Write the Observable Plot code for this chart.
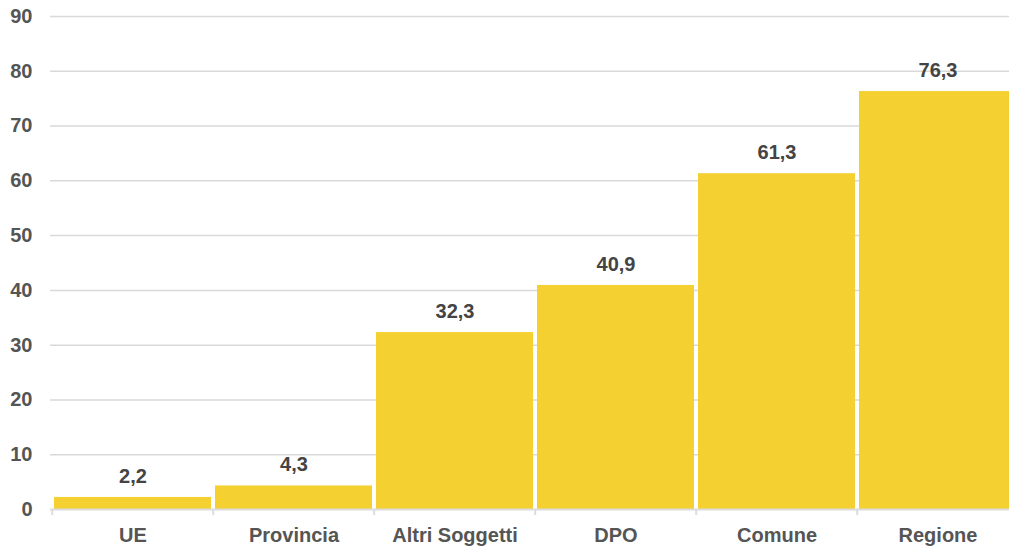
<!DOCTYPE html>
<html>
<head>
<meta charset="utf-8">
<script src="https://cdn.jsdelivr.net/npm/d3@7"></script>
<script src="https://cdn.jsdelivr.net/npm/@observablehq/plot@0.6"></script>
<style>
  html, body { margin: 0; padding: 0; background: #fff; }
  #chart svg { display: block; }
</style>
</head>
<body>
<div id="chart"></div>
<script>
const categories = ["UE", "Provincia", "Altri Soggetti", "DPO", "Comune", "Regione"];
const values = [2.2, 4.3, 32.3, 40.9, 61.3, 76.3];
const yTicks = [0, 10, 20, 30, 40, 50, 60, 70, 80, 90];

const data = categories.map((c, i) => ({category: c, value: values[i]}));
const fmt = v => v.toFixed(1).replace(".", ",");

const W = 1009, H = 547, mL = 50;
// the reference is cropped on the right: the band scale continues past the edge
const xRange = [50, 1020];
const step = (xRange[1] - xRange[0]) / categories.length;

const chart = Plot.plot({
  width: W,
  height: H,
  marginTop: 16,
  marginBottom: 38,
  marginLeft: mL,
  marginRight: 0,
  style: {fontFamily: "'Liberation Sans', Arial, Helvetica, sans-serif", background: "#fff"},
  x: {domain: categories, range: xRange, paddingInner: 0.025, paddingOuter: 0.0125, label: null},
  y: {domain: [0, 90], label: null},
  marks: [
    Plot.gridY(yTicks.filter(t => t > 0), {stroke: "#d9d9d9", strokeOpacity: 1, strokeWidth: 1.5}),
    Plot.barY(data, {x: "category", y: "value", fill: "#F4D031"}),
    Plot.ruleY([0], {stroke: "#dcdcdc", strokeWidth: 2}),
    Plot.axisX({tickSize: 6, dx: -step / 2, tickFormat: () => "", stroke: "#dcdcdc", strokeWidth: 2}),
    Plot.axisX({tickSize: 0, tickPadding: 18, fontSize: 20, fontWeight: "bold", fill: "#555"}),
    Plot.axisY({ticks: yTicks, tickSize: 0, tickPadding: 18, fontSize: 20, fontWeight: "bold", fill: "#555"}),
    Plot.text(data, {x: "category", y: "value", text: d => fmt(d.value), dy: -21, fontSize: 20, fontWeight: "bold", fill: "#444"})
  ]
});
document.getElementById("chart").appendChild(chart);
</script>
</body>
</html>
